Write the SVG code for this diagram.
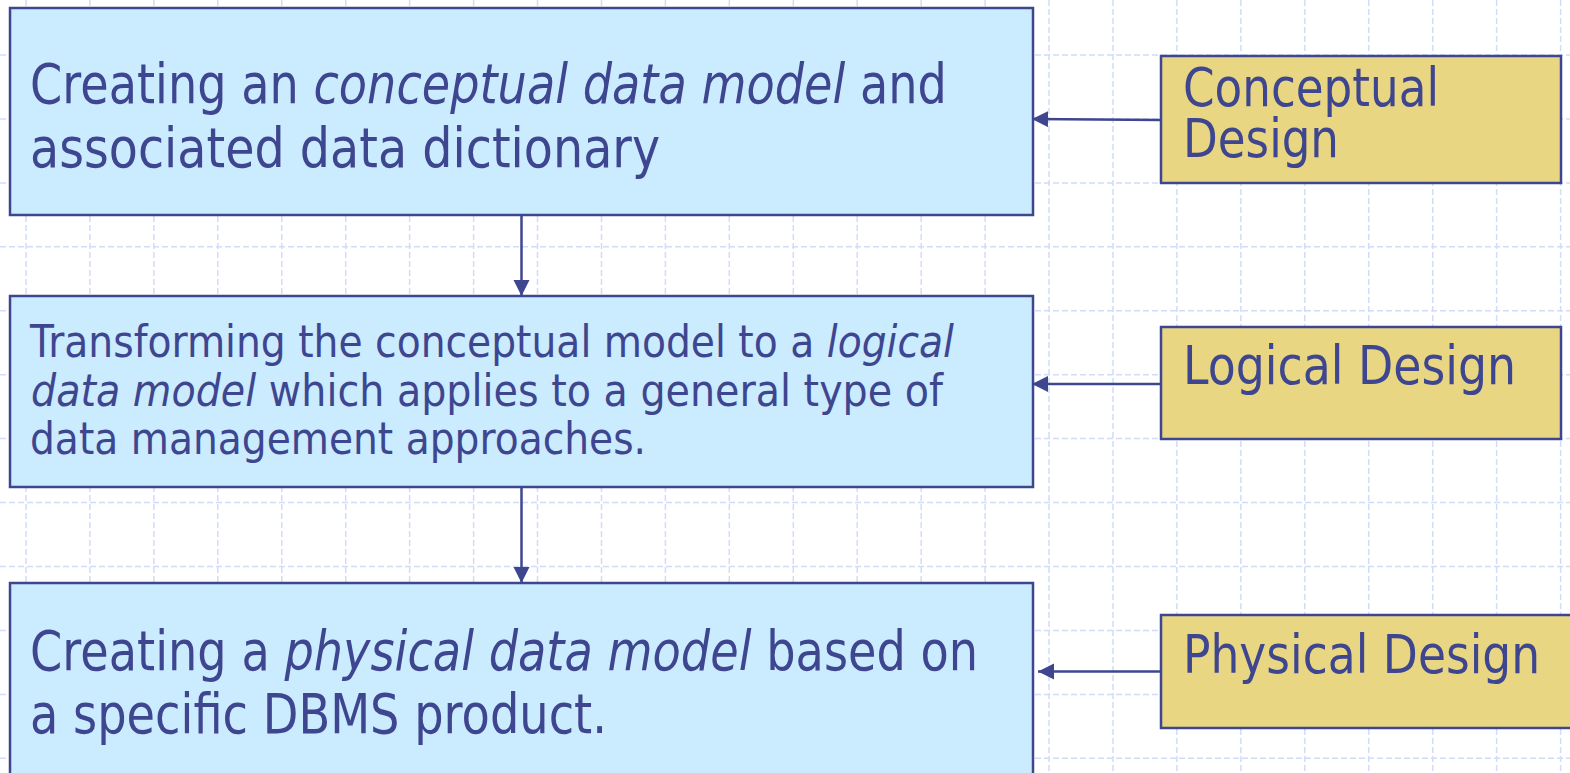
<svg xmlns="http://www.w3.org/2000/svg" width="1570" height="773" viewBox="0 0 1570 773">
<defs>
<style>
.grid{fill:none;stroke:#d0dcf8;stroke-width:1.5;stroke-dasharray:6 3}
.blue{fill:#cbebfe;stroke:#3e4690;stroke-width:2.5}
.yellow{fill:#e9d682;stroke:#3e4690;stroke-width:2.5}
.t{font-family:"DejaVu Sans","Liberation Sans",sans-serif;fill:#3e4690}
.big{font-size:55px}
.mid{font-size:45px}
.lab{font-size:54px}
.i{font-style:italic}
.conn{fill:none;stroke:#3e4690;stroke-width:2.5}
</style>
<marker id="ah" markerUnits="userSpaceOnUse" markerWidth="18" markerHeight="18" refX="16" refY="8" orient="auto">
<path d="M0,0 L16,8 L0,16 Z" fill="#3e4690"/>
</marker>
</defs>
<rect width="1570" height="773" fill="#ffffff"/>
<g id="grid">
<path class="grid" d="M26,0V773M89.9,0V773M153.9,0V773M217.8,0V773M281.8,0V773M345.7,0V773M409.6,0V773M473.6,0V773M537.5,0V773M601.5,0V773M665.4,0V773M729.3,0V773M793.3,0V773M857.2,0V773M921.2,0V773M985.1,0V773M1049,0V773M1113,0V773M1176.9,0V773M1240.9,0V773M1304.8,0V773M1368.7,0V773M1432.7,0V773M1496.6,0V773M1560.6,0V773"/>
<path class="grid" d="M0,55H1570M0,118.9H1570M0,182.9H1570M0,246.8H1570M0,310.8H1570M0,374.7H1570M0,438.6H1570M0,502.6H1570M0,566.5H1570M0,630.5H1570M0,694.4H1570M0,758.3H1570"/>
</g>
<g id="conceptual-model">
<rect class="blue" x="10" y="8" width="1023" height="207"/>
<text class="t big" transform="translate(30 103) scale(0.84 1)">Creating an <tspan class="i">conceptual data model</tspan> and</text>
<text class="t big" transform="translate(30 167) scale(0.866 1)">associated data dictionary</text>
</g>
<g id="logical-model">
<rect class="blue" x="10" y="296" width="1023" height="191"/>
<text class="t mid" transform="translate(30 357) scale(0.872 1)">Transforming the conceptual model to a <tspan class="i">logical</tspan></text>
<text class="t mid" transform="translate(31 406) scale(0.881 1)"><tspan class="i">data model</tspan> which applies to a general type of</text>
<text class="t mid" transform="translate(30 454) scale(0.871 1)">data management approaches.</text>
</g>
<g id="physical-model">
<rect class="blue" x="10" y="583" width="1023" height="210"/>
<text class="t big" transform="translate(30 670) scale(0.841 1)">Creating a <tspan class="i">physical data model</tspan> based on</text>
<text class="t big" transform="translate(30 733) scale(0.842 1)">a specific DBMS product.</text>
</g>
<g id="conceptual-design">
<rect class="yellow" x="1161" y="56" width="400" height="127"/>
<text class="t lab" transform="translate(1183 106) scale(0.838 1)">Conceptual</text>
<text class="t lab" transform="translate(1183 157) scale(0.837 1)">Design</text>
</g>
<g id="logical-design">
<rect class="yellow" x="1161" y="327" width="400" height="112"/>
<text class="t lab" transform="translate(1183 384) scale(0.848 1)">Logical Design</text>
</g>
<g id="physical-design">
<rect class="yellow" x="1161" y="615" width="430" height="113"/>
<text class="t lab" transform="translate(1183 673) scale(0.844 1)">Physical Design</text>
</g>
<g id="connectors">
<line class="conn" x1="1161" y1="120" x2="1032" y2="119" marker-end="url(#ah)"/>
<line class="conn" x1="1161" y1="384" x2="1032" y2="384" marker-end="url(#ah)"/>
<line class="conn" x1="1161" y1="671.5" x2="1038" y2="671.5" marker-end="url(#ah)"/>
<line class="conn" x1="521.5" y1="215" x2="521.5" y2="296" marker-end="url(#ah)"/>
<line class="conn" x1="521.5" y1="487" x2="521.5" y2="583" marker-end="url(#ah)"/>
</g>
</svg>
